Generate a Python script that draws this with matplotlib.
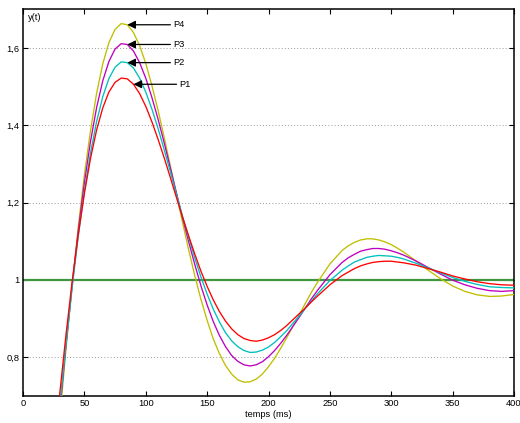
import matplotlib
matplotlib.use('Agg')
import matplotlib.pyplot as plt
from matplotlib.ticker import FuncFormatter

plt.rcParams['font.family'] = ['Liberation Sans', 'DejaVu Sans']

# time axis (ms)
t = [25, 30, 35, 40, 45, 50, 55, 60, 65, 70, 75, 80, 85, 90, 95, 100, 105, 110,
     115, 120, 125, 130, 135, 140,
     145, 150, 155, 160, 165, 170, 175, 180, 185, 190, 195, 200, 205, 210, 215,
     220, 225, 230, 235,
     240, 250, 260, 265, 270, 275, 280, 285, 290, 295, 300, 305, 310, 320, 330,
     340, 350, 360, 370, 380, 390, 400]

y_p1 = [0.547, 0.707, 0.857, 0.994, 1.116, 1.223, 1.314, 1.388, 1.445, 1.486,
        1.511, 1.522, 1.520, 1.506, 1.482, 1.449, 1.409, 1.364, 1.316, 1.265,
        1.213, 1.162, 1.113, 1.066,
        1.022, 0.983, 0.948, 0.918, 0.893, 0.873, 0.858, 0.848, 0.843, 0.841,
        0.844, 0.850, 0.858, 0.869, 0.882, 0.897, 0.912, 0.927, 0.943,
        0.958, 0.987, 1.011, 1.020, 1.029, 1.036, 1.041, 1.045, 1.047, 1.048,
        1.048, 1.046, 1.044, 1.038, 1.029, 1.020, 1.010, 1.002, 0.995, 0.990,
        0.987, 0.986]

y_p2 = [0.506, 0.674, 0.832, 0.979, 1.112, 1.229, 1.328, 1.410, 1.474, 1.521,
        1.550, 1.564, 1.562, 1.548, 1.522, 1.486, 1.442, 1.392, 1.337, 1.280,
        1.222, 1.164, 1.109, 1.056,
        1.007, 0.963, 0.924, 0.891, 0.863, 0.842, 0.827, 0.817, 0.812, 0.813,
        0.818, 0.826, 0.838, 0.853, 0.869, 0.888, 0.906, 0.926, 0.945,
        0.964, 0.998, 1.025, 1.036, 1.046, 1.052, 1.058, 1.061, 1.063, 1.062,
        1.061, 1.058, 1.054, 1.043, 1.031, 1.018, 1.006, 0.996, 0.988, 0.982,
        0.980, 0.979]

y_p3 = [0.488, 0.663, 0.830, 0.985, 1.126, 1.251, 1.358, 1.446, 1.515, 1.565,
        1.597, 1.611, 1.609, 1.592, 1.562, 1.522, 1.472, 1.416, 1.355, 1.290,
        1.225, 1.160, 1.098, 1.039,
        0.984, 0.935, 0.892, 0.856, 0.827, 0.804, 0.789, 0.780, 0.777, 0.780,
        0.788, 0.801, 0.817, 0.836, 0.857, 0.880, 0.903, 0.927, 0.951,
        0.973, 1.013, 1.045, 1.057, 1.066, 1.074, 1.078, 1.081, 1.081, 1.079,
        1.075, 1.070, 1.064, 1.049, 1.032, 1.015, 0.999, 0.987, 0.978, 0.972,
        0.970, 0.972]

y_p4 = [0.458, 0.642, 0.819, 0.984, 1.136, 1.271, 1.386, 1.483, 1.559, 1.614,
        1.648, 1.663, 1.660, 1.640, 1.606, 1.560, 1.503, 1.439, 1.369, 1.295,
        1.221, 1.148, 1.077, 1.010,
        0.949, 0.895, 0.847, 0.809, 0.778, 0.756, 0.741, 0.735, 0.736, 0.743,
        0.756, 0.775, 0.797, 0.823, 0.851, 0.880, 0.909, 0.939, 0.968,
        0.994, 1.041, 1.076, 1.088, 1.097, 1.103, 1.106, 1.106, 1.103, 1.098,
        1.091, 1.082, 1.072, 1.049, 1.025, 1.003, 0.984, 0.970, 0.961, 0.957,
        0.958, 0.962]

setpoint = 1.0
labels = ['P1', 'P2', 'P3', 'P4']
# time sample each arrow points at
arrow_t = [90, 85, 85, 85]
yticks = [0.8, 1.0, 1.2, 1.4, 1.6]
xticks = [0, 50, 100, 150, 200, 250, 300, 350, 400]

series = [y_p1, y_p2, y_p3, y_p4]
colors = ['#ff0000', '#00bfbf', '#bf00bf', '#bfbf00']

fig = plt.figure(figsize=(5.2, 4.23), dpi=100)
ax = fig.add_axes([0.0442, 0.0645, 0.9443, 0.9135])

ax.yaxis.grid(True, linestyle=(0, (1, 2.2)), color='#9a9a9a', lw=0.7)
ax.set_axisbelow(True)

ax.axhline(setpoint, color='#3f973f', lw=1.6, zorder=2)
for ys, c in zip(series[::-1], colors[::-1]):
    ax.plot(t, ys, color=c, lw=0.95, zorder=3)

for lab, ys, ta in zip(labels, series, arrow_t):
    i = t.index(ta)
    ax.annotate(lab, xy=(t[i], ys[i]), xytext=(33, 0), textcoords='offset points',
                va='center', ha='left', fontsize=6.7,
                arrowprops=dict(arrowstyle='-|>', color='k', lw=0.9,
                                shrinkA=0, shrinkB=0, mutation_scale=12))

ax.set_xlim(0, 400)
ax.set_ylim(0.7, 1.7)
ax.set_xticks(xticks)
ax.set_yticks(yticks)
ax.yaxis.set_major_formatter(FuncFormatter(lambda v, p: ('%g' % v).replace('.', ',')))
ax.tick_params(direction='in', length=3.5, width=0.8, labelsize=6.7,
               top=True, right=True, pad=2.5)
for sp in ax.spines.values():
    sp.set_linewidth(1.1)

ax.set_xlabel('temps (ms)', fontsize=6.7, labelpad=1)
ax.text(0.01, 0.979, 'y(t)', transform=ax.transAxes, fontsize=6.7,
        ha='left', va='center')

plt.savefig('out.png', dpi=100)
